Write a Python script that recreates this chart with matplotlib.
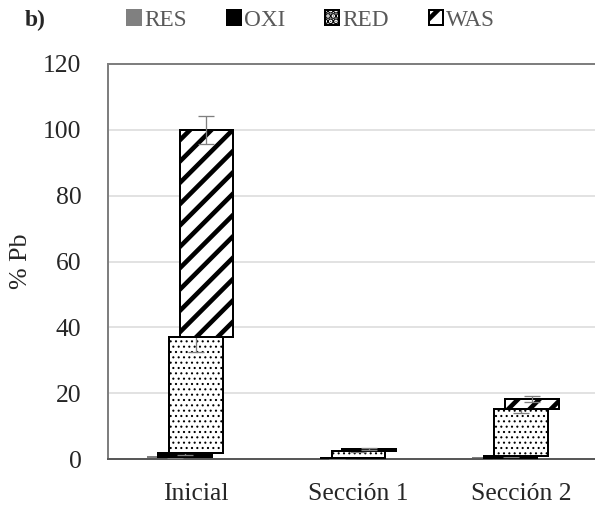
import matplotlib
matplotlib.use("Agg")
import matplotlib.pyplot as plt
import numpy as np

categories = ['Inicial', 'Sección 1', 'Sección 2']
series = ['RES', 'OXI', 'RED', 'WAS']
res = [0.5, 0.1, 0.3]
oxi = [1.2, 0.2, 0.6]
red = [35.3, 2.0, 14.3]
was = [63.0, 0.7, 3.0]
res_err = [0.3, 0.05, 0.1]
oxi_err = [0.4, 0.1, 0.2]
red_err = [4.6, 0.3, 1.2]
was_err = [4.2, 0.3, 0.8]
yticks = [0, 20, 40, 60, 80, 100, 120]

DPI = 128


def pt(px):
    return px * 72.0 / DPI


plt.rcParams['font.family'] = ['Liberation Serif', 'DejaVu Serif']
fig = plt.figure(figsize=(595 / DPI, 507 / DPI), dpi=DPI)
ax = fig.add_axes([108 / 595, 1 - 459 / 507, 1 - 108 / 595, (459 - 64) / 507])

x = np.arange(len(categories))
offsets = [-0.13, -0.065, 0.0, 0.065]
width = 0.33
values = [res, oxi, red, was]
errs = [res_err, oxi_err, red_err, was_err]
faces = ['#808080', '#000000', 'white', 'white']
edges = ['#808080', '#000000', '#000000', '#000000']
hatches = [None, None, '....', '//']
hatch_lw = [1.0, 1.0, 1.1, 4.6]

bottom = np.zeros(len(categories))
handles = []
for i, (vals, name) in enumerate(zip(values, series)):
    vals = np.array(vals)
    plt.rcParams['hatch.linewidth'] = pt(hatch_lw[i])
    b = ax.bar(x + offsets[i], vals, width, bottom=bottom, color=faces[i],
               edgecolor=edges[i], hatch=hatches[i], linewidth=pt(2.0),
               label=name, zorder=2 + i * 2)
    handles.append(b)
    ax.errorbar(x + offsets[i], bottom + vals, yerr=errs[i], fmt='none',
                ecolor='#7f7f7f', elinewidth=pt(1.3), capsize=pt(8),
                capthick=pt(1.3), zorder=3 + i * 2)
    bottom = bottom + vals

ax.set_xlim(-0.54, 2.454)
ax.set_ylim(0, 120)
ax.set_yticks(yticks)
ax.set_xticks(x)
ax.set_xticklabels(categories)
ax.yaxis.grid(True, color='#d9d9d9', linewidth=pt(1.5), zorder=0)
ax.set_axisbelow(True)
ax.tick_params(axis='both', length=0, labelsize=pt(25.6), colors='#262626')
ax.tick_params(axis='y', pad=pt(26.5))
ax.tick_params(axis='x', pad=pt(24.5))
ax.spines['right'].set_visible(False)
for s in ['left', 'top']:
    ax.spines[s].set_color('#7f7f7f')
    ax.spines[s].set_linewidth(pt(2.0))
ax.spines['bottom'].set_color('#595959')
ax.spines['bottom'].set_linewidth(pt(2.0))
ax.set_ylabel('% Pb', fontsize=pt(26), color='#262626', labelpad=pt(11))

fig.text(25 / 595, 1 - 20 / 507, 'b)', fontsize=pt(23.5), fontweight='bold',
         ha='left', va='center', color='#262626')
leg = fig.legend(handles=handles, labels=series, loc='center',
                 bbox_to_anchor=(311 / 595, 1 - 20 / 507), ncol=4, frameon=False,
                 fontsize=pt(23.3), handlelength=0.6, handleheight=0.6,
                 handletextpad=0.15, columnspacing=1.7, labelcolor='#595959')

fig.savefig('out.png', dpi=DPI)
